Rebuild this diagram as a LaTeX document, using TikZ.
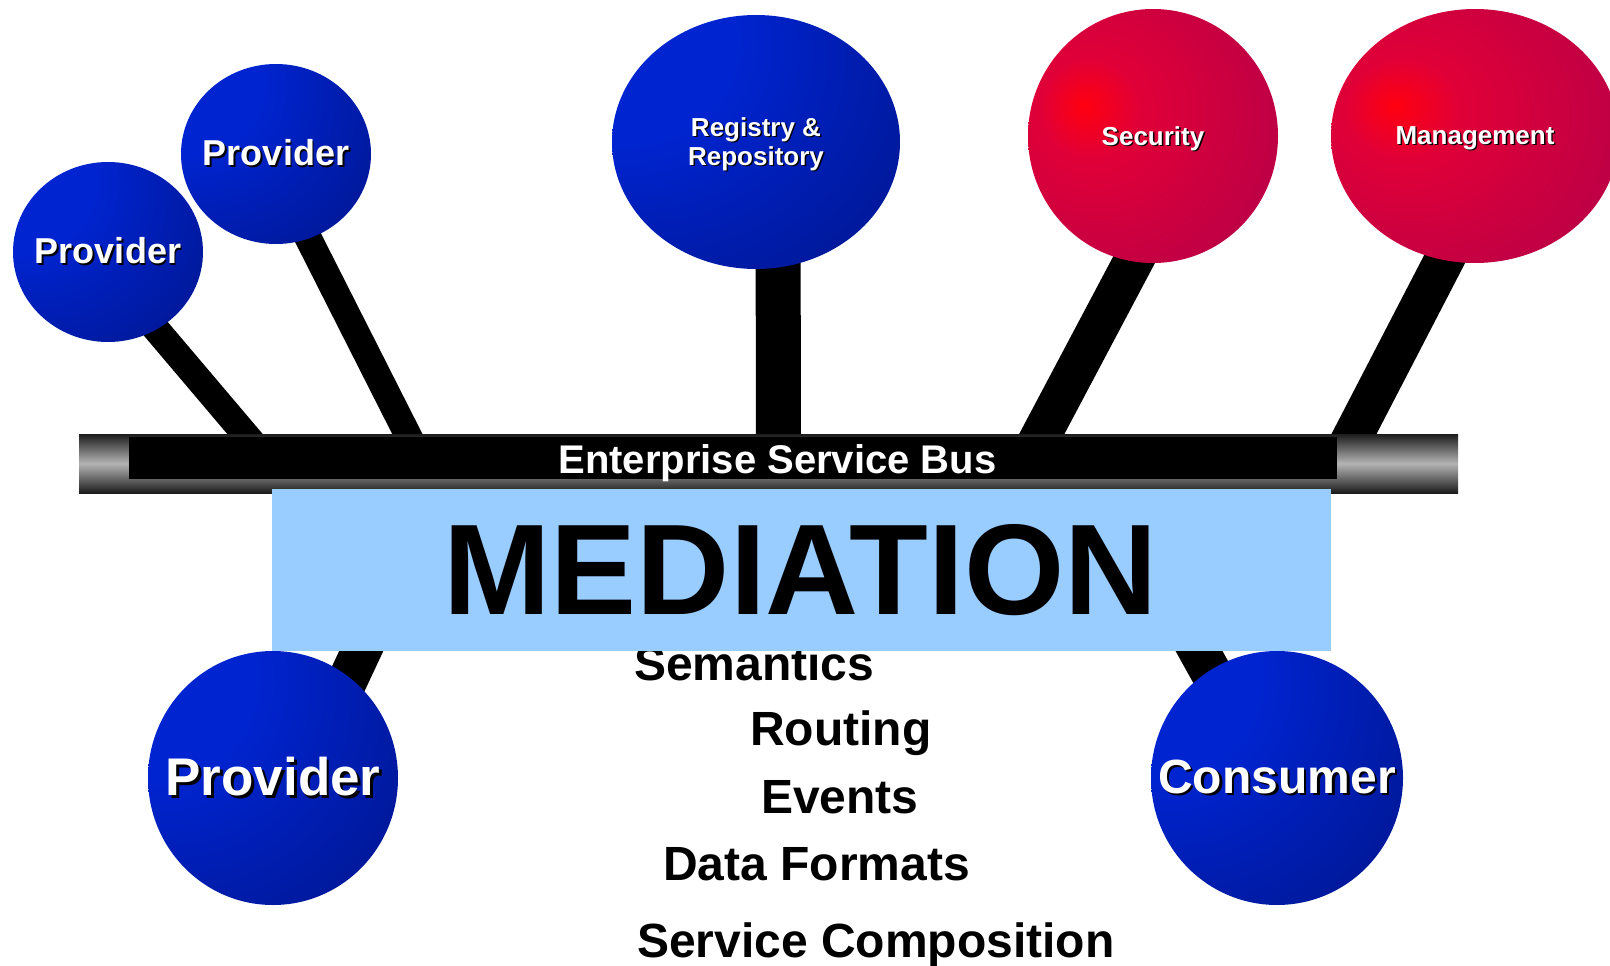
\documentclass[tikz,border=0pt]{standalone}
\usepackage{fontspec}
\setmainfont{Liberation Sans}
\usetikzlibrary{positioning,shapes.geometric,backgrounds}

\definecolor{ballA}{HTML}{0024D0}
\definecolor{ballB}{HTML}{000A58}
\definecolor{redA}{HTML}{FF0010}
\definecolor{redB}{HTML}{E00038}
\definecolor{redC}{HTML}{BA0046}
\definecolor{barDark}{HTML}{1C1C1C}
\definecolor{barLight}{HTML}{B4B4B4}
\definecolor{medblue}{HTML}{99CCFF}

\pgfdeclareradialshading{blueball}{\pgfpoint{-30bp}{25bp}}{color(0bp)=(ballA); color(20bp)=(ballA); color(80bp)=(ballB); color(100bp)=(ballB)}
\pgfdeclareradialshading{redball}{\pgfpoint{-14bp}{6bp}}{color(0bp)=(redA); color(10bp)=(redB); color(38bp)=(redC); color(100bp)=(redC)}

\newcommand{\shadowed}[1]{\rlap{\kern0.055em\raisebox{-0.055em}{\color{black}#1}}#1}

\tikzset{
  ball/.style={ellipse, inner sep=0pt, shading=#1},
  lbl/.style={text=white, inner sep=0pt, align=center, font=\fontsize{#1}{29}\selectfont\bfseries},
  stick/.style={line width=#1pt, shorten <=-25pt},
  mtext/.style={inner sep=0pt, anchor=base west, font=\fontsize{48}{50}\selectfont\bfseries}
}

\begin{document}
\begin{tikzpicture}[x=1pt, y=-1pt]
  \useasboundingbox (0,0) rectangle (1610,966);

  \node[ball=blueball, minimum width=190pt, minimum height=180pt] (prov1) at (108,252) {};
  \node[ball=blueball, minimum width=190pt, minimum height=180pt] (prov2) at (276,154) {};
  \node[ball=blueball, minimum width=288pt, minimum height=254pt] (reg) at (756,142) {};
  \node[ball=redball, minimum width=250pt, minimum height=254pt] (sec) at (1153,136) {};
  \node[ball=redball, minimum width=288pt, minimum height=254pt] (mgt) at (1475,136) {};
  \node[ball=blueball, minimum width=250pt, minimum height=254pt] (prov3) at (273,778) {};
  \node[ball=blueball, minimum width=252pt, minimum height=254pt] (cons) at (1277,778) {};

  \node[lbl=36] (prov1t) at (prov1) {\shadowed{Provider}};
  \node[lbl=36] (prov2t) at (prov2) {\shadowed{Provider}};
  \node[lbl=26, yshift=-3pt] (regt) at (reg) {\shadowed{Registry \&}\\\shadowed{Repository}};
  \node[lbl=26, yshift=-3pt] (sect) at (sec) {\shadowed{Security}};
  \node[lbl=26, yshift=-3pt] (mgtt) at (mgt) {\shadowed{Management}};
  \node[lbl=53] (prov3t) at (prov3) {\shadowed{Provider}};
  \node[lbl=48] (const) at (cons) {\shadowed{Consumer}};

  \coordinate (bp1) at (267,460);
  \coordinate (bp2) at (420.5,460);
  \coordinate (breg) at (778.5,460);
  \coordinate (bsec) at (1028,460);
  \coordinate (bmgt) at (1340.5,460);
  \coordinate (bprov) at (449,463);
  \coordinate (bcons) at (1094.5,463);

  \begin{scope}[on background layer]
    \draw[stick=27] (prov1.302) -- (bp1);
    \draw[stick=27] (prov2.291) -- (bp2);
    \draw[stick=45] (reg.280) -- (breg);
    \draw[stick=40] (sec.261) -- (bsec);
    \draw[stick=40] (mgt.256) -- (bmgt);
    \draw[stick=40] (prov3.53) -- (bprov);
    \draw[stick=41] (cons.122) -- (bcons);
  \end{scope}

  \node[inner sep=0pt, minimum width=1379pt, minimum height=59pt, top color=barDark, bottom color=barDark, middle color=barLight] (bus) at (768.5,463.5) {};
  \node[fill=black, inner sep=0pt, minimum width=1208pt, minimum height=42pt] (busin) at (733,458) {};
  \node[text=white, inner sep=0pt, anchor=base, font=\fontsize{40}{44}\selectfont\bfseries] (esb) at (777.5,473) {Enterprise Service Bus};

  \node[mtext] (sem) at (634,680) {Semantics};
  \node[fill=medblue, inner sep=0pt, minimum width=1059pt, minimum height=162pt] (medbox) at (801.5,570) {};
  \node[inner sep=0pt, anchor=base, font=\fontsize{129}{132}\selectfont\bfseries] (med) at (800.5,614) {MEDIATION};

  \node[mtext] (rout) at (750,745) {Routing};
  \node[mtext] (evt) at (761,813) {Events};
  \node[mtext] (dfmt) at (663,880) {Data Formats};
  \node[mtext] (scomp) at (637,957) {Service Composition};
\end{tikzpicture}
\end{document}
